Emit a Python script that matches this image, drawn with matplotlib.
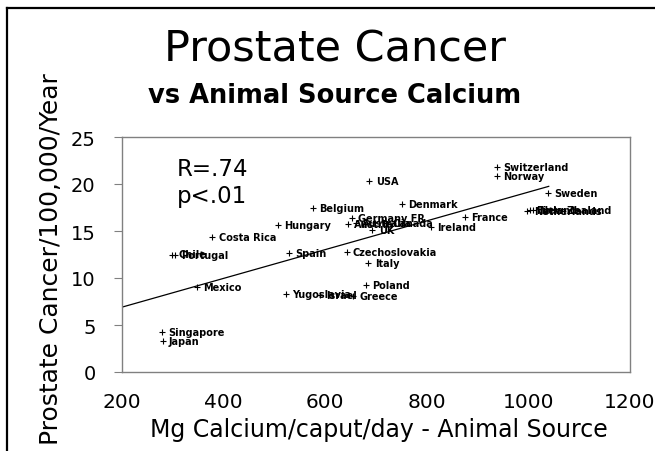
import matplotlib.pyplot as plt
from matplotlib.lines import Line2D

# values
countries = ['USA', 'Switzerland', 'Norway', 'Sweden', 'Finland', 'Netherlands',
             'New Zealand', 'Denmark', 'France', 'Ireland', 'Germany FR', 'Austria',
             'Australia', 'Canada', 'UK', 'Belgium', 'Hungary', 'Costa Rica', 'Chile',
             'Portugal', 'Spain', 'Czechoslovakia', 'Italy', 'Mexico', 'Poland',
             'Yugoslavia', 'Israel', 'Greece', 'Singapore', 'Japan']
calcium = [687, 938, 938, 1039, 1003, 998, 1010, 751, 875, 808, 652, 645,
           660, 720, 693, 575, 507, 378, 298, 305, 529, 642, 685, 347, 680,
           523, 590, 655, 278, 280]
cancer = [20.35, 21.8, 20.9, 19.0, 17.2, 17.1, 17.2, 17.9, 16.5, 15.4, 16.35, 15.7,
          15.8, 15.9, 15.07, 17.4, 15.6, 14.4, 12.5, 12.45, 12.66, 12.8, 11.56, 9.07, 9.25,
          8.3, 8.2, 8.1, 4.29, 3.33]

# regression line end points
fit_x = [200, 1040]
fit_y = [6.9, 19.75]

x_ticks = [200, 400, 600, 800, 1000, 1200]
y_ticks = [0, 5, 10, 15, 20, 25]

W, H = 655, 452
fig = plt.figure(figsize=(W / 100, H / 100), dpi=100)
ax = fig.add_axes([122 / W, 1 - 373 / H, (630 - 122) / W, (373 - 138) / H])

ax.plot(fit_x, fit_y, color='black', linewidth=0.9)
ax.plot(calcium, cancer, '+', color='black', markersize=4.5, markeredgewidth=0.8)
for name, x, y in zip(countries, calcium, cancer):
    ax.annotate(name, (x, y), xytext=(4.5, 0), textcoords='offset points',
                va='center', ha='left', fontsize=7, fontweight='bold')

ax.text(308, 20.96, 'R=.74', fontsize=16.5, va='baseline')
ax.text(308, 18.1, 'p<.01', fontsize=16.5, va='baseline')

ax.set_xlim(200, 1200)
ax.set_ylim(0, 25)
ax.set_xticks(x_ticks)
ax.set_yticks(y_ticks)
ax.tick_params(axis='x', length=0, pad=14.5, labelsize=14.5)
ax.tick_params(axis='y', length=6, pad=13, labelsize=14, color='#808080')
for s in ax.spines.values():
    s.set_color('#808080')
    s.set_linewidth(1.0)

fig.text(335 / W, 1 - 62 / H, 'Prostate Cancer', ha='center', va='baseline', fontsize=31)
fig.text(335 / W, 1 - 103 / H, 'vs Animal Source Calcium', ha='center', va='baseline',
         fontsize=18.5, fontweight='bold')
fig.text(379 / W, 1 - 437 / H, 'Mg Calcium/caput/day - Animal Source', ha='center',
         va='baseline', fontsize=17)
fig.text(51 / W, 1 - 259 / H, 'Prostate Cancer/100,000/Year', rotation=90,
         ha='center', va='center', fontsize=18)

# outer frame (only left and top edges fall inside the picture)
fig.add_artist(Line2D([6.5 / W, 6.5 / W], [0, 1 - 9 / H], color='black', linewidth=1.6))
fig.add_artist(Line2D([6.5 / W, 1], [1 - 9 / H, 1 - 9 / H], color='black', linewidth=1.6))

fig.savefig('out.png', dpi=100)
